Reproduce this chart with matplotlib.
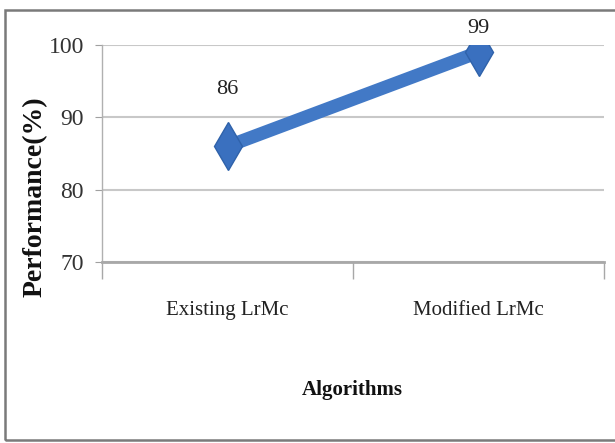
import matplotlib
matplotlib.use("Agg")
import matplotlib.pyplot as plt
from matplotlib.patches import Rectangle

# performance of the two LrMc variants
algorithms = ["Existing LrMc", "Modified LrMc"]
performance = [86, 99]
yticks = [70, 80, 90, 100]

plt.rcParams['font.family'] = ['Liberation Serif', 'DejaVu Serif']

fig = plt.figure(figsize=(6.15, 4.43), dpi=100)
ax = fig.add_axes([102 / 615, 1 - 262 / 443, (604 - 102) / 615, (262 - 45) / 443])

x = range(len(algorithms))
ax.plot(x, performance, color='#4279c6', linewidth=9.5, solid_capstyle='butt',
        marker='d', markersize=24, markerfacecolor='#3a70bf',
        markeredgecolor='#2f62aa', markeredgewidth=1, zorder=3)

# value labels above each point, kept inside the chart area
for xi, v in zip(x, performance):
    ax.text(xi, min(v + 7.8, 102.3), str(v), ha='center', va='center',
            fontsize=16, color='#222222', clip_on=False)

ax.set_xlim(-0.5, len(algorithms) - 0.5)
ax.set_ylim(70, 100)
ax.set_yticks(yticks)
ax.set_yticklabels([str(t) for t in yticks], fontsize=17, color='#333333')
ax.set_xticks(list(x))
ax.set_xticklabels(algorithms, fontsize=15, color='#222222')
ax.set_xticks([-0.5, 0.5, 1.5], minor=True)

ax.grid(axis='y', color='#c8c8c8', linewidth=1.5)
ax.set_axisbelow(True)
for side in ['top', 'right']:
    ax.spines[side].set_visible(False)
ax.spines['left'].set_color('#b0b0b0')
ax.spines['left'].set_linewidth(1.0)
ax.spines['bottom'].set_color('#a8a8a8')
ax.spines['bottom'].set_linewidth(2.0)

ax.tick_params(axis='y', length=5, color='#a0a0a0', pad=8)
ax.tick_params(axis='x', which='major', length=0, pad=28)
ax.tick_params(axis='x', which='minor', length=12, color='#a8a8a8', width=1)

fig.text(35 / 615, 1 - 197 / 443, "Performance(%)", rotation=90, ha='center',
         va='center', fontsize=20, fontweight='bold', color='#111111')
fig.text(352 / 615, 1 - 390 / 443, "Algorithms", ha='center', va='center',
         fontsize=15, fontweight='bold', color='#111111')

# chart border
fig.patches.append(Rectangle((5 / 615, 3 / 443), 620 / 615, 430 / 443,
                             transform=fig.transFigure, fill=False,
                             edgecolor='#7a7a7a', linewidth=1.8))

fig.savefig("out.png", dpi=100)
